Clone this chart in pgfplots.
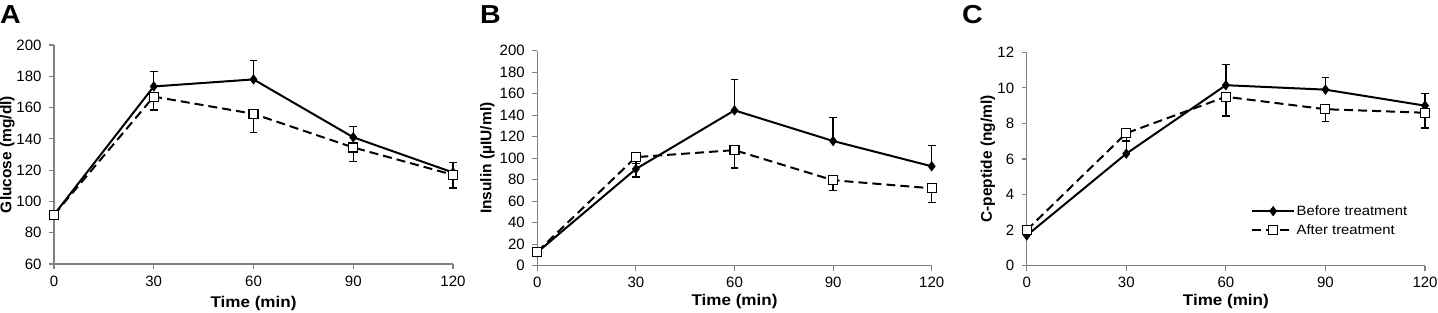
\documentclass[border=0pt]{standalone}
\usepackage{fontspec}
\setmainfont{Liberation Sans}[FakeStretch=1.1]
\newfontfamily\ylabfont{Liberation Sans}
\usepackage{pgfplots}
\pgfplotsset{compat=1.18}
\definecolor{axgray}{RGB}{128,128,128}
\pgfplotsset{
 myaxis/.style={
  scale only axis, anchor=south west,
  axis x line=bottom, axis y line=left,
  axis line style={-, draw=axgray, line width=1.1pt},
  tick style={draw=axgray, line width=1.1pt},
  major tick length=5pt, tick align=outside,
  xmin=0, xmax=120, xtick={0,30,60,90,120},
  tick label style={font=\ylabfont\fontsize{15}{17}\selectfont},
  yticklabel style={xshift=-4pt},
  xticklabel style={yshift=-3pt},
  /pgf/number format/assume math mode=true,
  clip=false,
  every axis y label/.style={at={(axis description cs:0,0.5)}, anchor=center, rotate=90, font=\ylabfont\bfseries\fontsize{15.5}{17}\selectfont},
  every axis x label/.style={at={(axis description cs:0.5,0)}, anchor=center, font=\bfseries\fontsize{15.5}{17}\selectfont},
  legend image code/.code={\draw[mark repeat=2,mark phase=2,##1] plot coordinates {(0pt,0pt)(21pt,0pt)(42pt,0pt)};},
 },
 before/.style={black, line width=2pt, mark=diamond*, mark size=4.8pt,
   mark options={solid, fill=black, line width=0.5pt},
   error bars/y dir=plus, error bars/y explicit,
   error bars/error bar style={line width=1.3pt, solid, black},
   error bars/error mark options={rotate=90, mark size=3.8pt, line width=1.3pt, black}},
 after/.style={black, line width=2pt, dash pattern=on 9pt off 5pt, mark=square*, mark size=4.5pt,
   mark options={solid, fill=white, line width=1.1pt},
   error bars/y dir=minus, error bars/y explicit,
   error bars/error bar style={line width=1.3pt, solid, black},
   error bars/error mark options={rotate=90, mark size=3.8pt, line width=1.3pt, black}},
}
\begin{document}
\begin{tikzpicture}
\useasboundingbox (0pt,0pt) rectangle (1438pt,313pt);
% Panel A
\begin{axis}[myaxis, at={(54pt,49pt)}, width=399pt, height=219pt,
  ymin=60, ymax=200, ytick={60,80,...,200},
  ylabel={Glucose (mg/dl)}, xlabel={Time (min)},
  ylabel style={yshift=46.5pt}, xlabel style={yshift=-39pt}]
\addplot[before] table[y error=e] {
x y e
0 91.5 1
30 173.5 9.5
60 178 12
90 141 7
120 118.5 6.5
};
\addplot[after] table[y error=e] {
x y e
0 91.5 1
30 167 8.5
60 156 12
90 134.5 9
120 117 8.5
};
\end{axis}
% Panel B
\begin{axis}[myaxis, at={(537.3pt,47.3pt)}, width=394.4pt, height=215pt,
  ymin=0, ymax=200, ytick={0,20,...,200},
  ylabel={Insulin (µIU/ml)}, xlabel={Time (min)},
  ylabel style={yshift=50pt}, xlabel style={yshift=-36pt}]
\addplot[before] table[y error=e] {
x y e
0 12.5 2
30 90 5
60 144.5 28.5
90 116 22
120 92.5 19
};
\addplot[after] table[y error=e] {
x y e
0 13 2
30 101 18.5
60 107.5 16.5
90 79.5 9.5
120 72 13.5
};
\end{axis}
% Panel C
\begin{axis}[myaxis, at={(1026.7pt,47.3pt)}, width=398.3pt, height=213.4pt,
  ymin=0, ymax=12, ytick={0,2,...,12},
  ylabel={C-peptide (ng/ml)}, xlabel={Time (min)},
  ylabel style={yshift=38.7pt}, xlabel style={yshift=-36pt},
  legend style={at={(0.563,0.29)}, anchor=north west, draw=none, fill=none,
    inner sep=0pt, row sep=5pt, font=\fontsize{13.5}{15}\selectfont,
    nodes={inner sep=1.5pt}},
  legend cell align=left]
\addplot[before] table[y error=e] {
x y e
0 1.7 0.15
30 6.3 0.7
60 10.15 1.15
90 9.9 0.7
120 9.0 0.7
};
\addlegendentry{Before treatment}
\addplot[after] table[y error=e] {
x y e
0 2.0 0.15
30 7.45 0.4
60 9.5 1.08
90 8.8 0.7
120 8.6 0.86
};
\addlegendentry{After treatment}
\end{axis}
\node[anchor=north west, inner sep=0pt, font=\bfseries\fontsize{26}{28}\selectfont] at (0pt,308pt) {A};
\node[anchor=north west, inner sep=0pt, font=\bfseries\fontsize{26}{28}\selectfont] at (480pt,308pt) {B};
\node[anchor=north west, inner sep=0pt, font=\bfseries\fontsize{26}{28}\selectfont] at (962pt,308pt) {C};
\end{tikzpicture}
\end{document}
